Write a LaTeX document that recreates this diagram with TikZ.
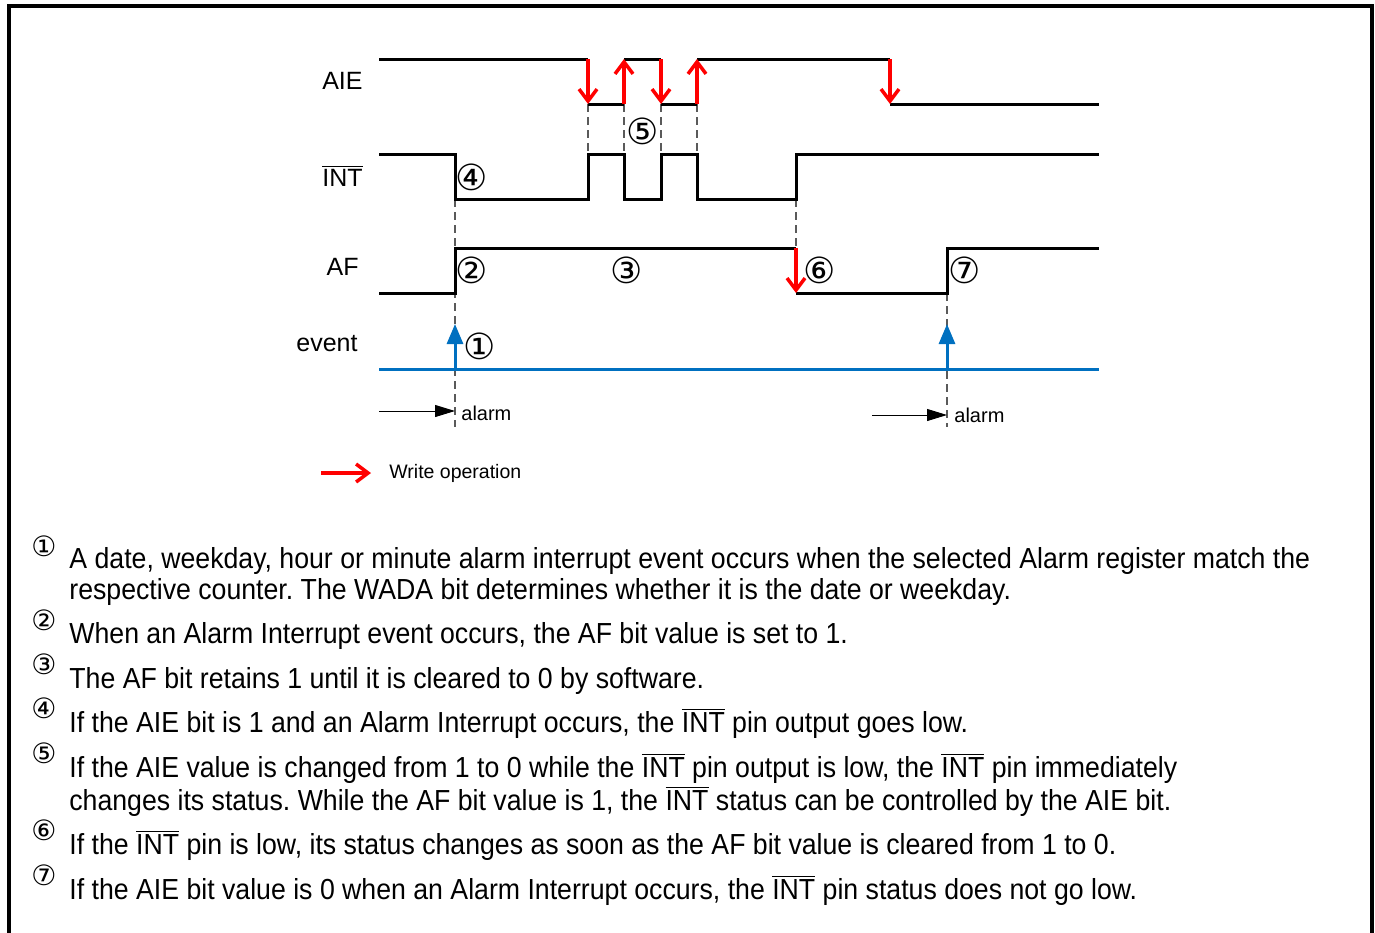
\documentclass[tikz,border=0pt]{standalone}
\usepackage{fontspec}
\setmainfont{Liberation Sans}
\newfontfamily\bodyfont{Liberation Sans}[FakeStretch=0.92]
\newfontfamily\circfont{DejaVu Sans}
\usetikzlibrary{arrows.meta}
\definecolor{sigblue}{RGB}{0,112,192}
\definecolor{dashgray}{RGB}{90,90,90}
\newcommand\ovINT{$\overline{\mbox{INT}}$}
\frenchspacing
\tikzset{
  wave/.style={line width=1.5pt, black},
  writearrow/.style={line width=1.75pt, red, -{Straight Barb[length=6pt,width=9pt]}},
  guide/.style={dashgray, line width=0.6pt, dash pattern=on 4pt off 2.5pt},
  evtline/.style={sigblue, line width=1.5pt},
  evtarrow/.style={sigblue, line width=1.5pt, -{Triangle[length=10pt,width=8pt]}},
  alarmarrow/.style={black, line width=0.5pt, -{Triangle[length=10pt,width=6pt]}},
  siglabel/.style={font=\fontsize{12.5}{15}\selectfont, anchor=east, inner sep=0pt},
  smalllabel/.style={font=\fontsize{10}{12}\selectfont, anchor=west, inner sep=0pt},
  circnum/.style={font=\circfont\fontsize{18}{20}\selectfont, inner sep=0pt},
  textcirc/.style={font=\circfont\fontsize{14}{16}\selectfont, inner sep=0pt},
  bodyline/.style={font=\bodyfont\fontsize{14.5}{17}\selectfont, anchor=base west, inner sep=0pt},
}
\begin{document}
\begin{tikzpicture}[x=0.5pt, y=-0.5pt]
\useasboundingbox (0,0) rectangle (1375,932);
\fill[white] (0,0) rectangle (1375,932);
% frame
\draw[line width=1.75pt, line cap=rect] (9,960) -- (9,6) -- (1372,6) -- (1372,960);

% dashed guides
\foreach \gx in {588,624,661,697} \draw[guide] (\gx,104) -- (\gx,154);
\draw[guide] (455,199) -- (455,427);
\draw[guide] (796,199) -- (796,248);
\draw[guide] (947,293) -- (947,427);

% AIE
\draw[wave] (379,59) -- (588,59);
\draw[wave] (588,104) -- (624,104);
\draw[wave] (624,59) -- (661,59);
\draw[wave] (661,104) -- (697,104);
\draw[wave] (697,59) -- (890,59);
\draw[wave] (890,104) -- (1099,104);
\draw[writearrow] (588,59) -- (588,104);
\draw[writearrow] (624,104) -- (624,59);
\draw[writearrow] (661,59) -- (661,104);
\draw[writearrow] (697,104) -- (697,59);
\draw[writearrow] (890,59) -- (890,104);

% INT
\draw[wave] (379,154) -- (455,154) -- (455,199) -- (588,199) -- (588,154) -- (624,154) -- (624,199) -- (661,199) -- (661,154) -- (697,154) -- (697,199) -- (796,199) -- (796,154) -- (1099,154);

% AF
\draw[wave] (379,293) -- (455,293) -- (455,248) -- (796,248);
\draw[wave] (796,293) -- (947,293) -- (947,248) -- (1099,248);
\draw[writearrow] (796,248) -- (796,293);

% event
\draw[evtline] (379,369) -- (1099,369);
\draw[evtarrow] (455,369) -- (455,324);
\draw[evtarrow] (947,369) -- (947,324);

% alarm
\coordinate (al1s) at (379,411);
\node[smalllabel] (al1) at (461,413) {alarm};
\draw[alarmarrow] (al1s) -- (455,411);
\coordinate (al2s) at (872,415);
\node[smalllabel] (al2) at (954,415) {alarm};
\draw[alarmarrow] (al2s) -- (947,415);

% legend
\coordinate (lg1) at (321,473);
\node[font=\fontsize{9.75}{12}\selectfont, anchor=west, inner sep=0pt] (lgt) at (389,473) {Write operation};
\draw[writearrow] (lg1) -- (371,473);

% signal labels
\node[siglabel] (lAIE) at (363,81) {AIE};
\node[siglabel] (lINT) at (363,176) {\ovINT};
\node[siglabel] (lAF) at (359,267) {AF};
\node[siglabel] (lev) at (358,344) {event};

% circled numbers in diagram
\node[circnum] (c4) at (472,177) {④};
\node[circnum] (c5) at (643,131) {⑤};
\node[circnum] (c2) at (472,270) {②};
\node[circnum] (c3) at (627,270) {③};
\node[circnum] (c6) at (820,270) {⑥};
\node[circnum] (c7) at (965,270) {⑦};
\node[circnum] (c1) at (480,346) {①};

% explanation text
\node[textcirc] (n1) at (44,546) {①};
\node[bodyline] (t1a) at (69,568) {A date, weekday, hour or minute alarm interrupt event occurs when the selected Alarm register match the};
\node[bodyline] (t1b) at (69,599) {respective counter. The WADA bit determines whether it is the date or weekday.};
\node[textcirc] (n2) at (44,620) {②};
\node[bodyline] (t2) at (69,643) {When an Alarm Interrupt event occurs, the AF bit value is set to 1.};
\node[textcirc] (n3) at (44,664) {③};
\node[bodyline] (t3) at (69,688) {The AF bit retains 1 until it is cleared to 0 by software.};
\node[textcirc] (n4) at (44,708) {④};
\node[bodyline] (t4) at (69,732) {If the AIE bit is 1 and an Alarm Interrupt occurs, the \ovINT{} pin output goes low.};
\node[textcirc] (n5) at (44,753) {⑤};
\node[bodyline] (t5a) at (69,777) {If the AIE value is changed from 1 to 0 while the \ovINT{} pin output is low, the \ovINT{} pin immediately};
\node[bodyline] (t5b) at (69,810) {changes its status. While the AF bit value is 1, the \ovINT{} status can be controlled by the AIE bit.};
\node[textcirc] (n6) at (44,830) {⑥};
\node[bodyline] (t6) at (69,854) {If the \ovINT{} pin is low, its status changes as soon as the AF bit value is cleared from 1 to 0.};
\node[textcirc] (n7) at (44,875) {⑦};
\node[bodyline] (t7) at (69,899) {If the AIE bit value is 0 when an Alarm Interrupt occurs, the \ovINT{} pin status does not go low.};
\end{tikzpicture}
\end{document}
